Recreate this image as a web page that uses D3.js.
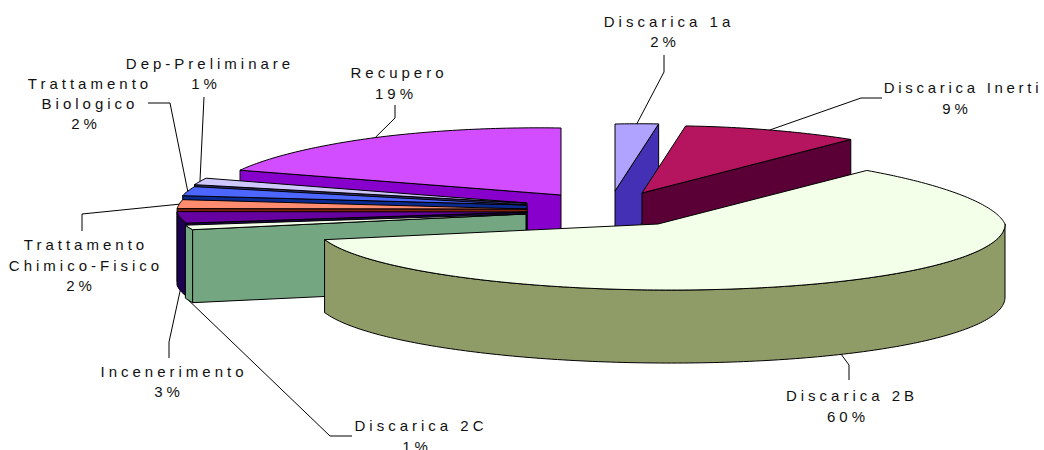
<!DOCTYPE html>
<html><head><meta charset="utf-8">
<script src="https://cdn.jsdelivr.net/npm/d3@7"></script>
<style>html,body{margin:0;padding:0;background:#fff;overflow:hidden}svg{display:block}text{font-family:"Liberation Sans",Arial,sans-serif;font-size:15px;letter-spacing:4px;fill:#111}</style>
</head><body><svg id="c" width="1044" height="450"></svg>
<script>
// data
const categories = ["Discarica 1a","Discarica Inerti","Discarica 2B","Discarica 2C","Incenerimento","Trattamento Chimico-Fisico","Trattamento Biologico","Dep-Preliminare","Recupero"];
const values = [2.4, 9.0, 59.6, 1.2, 2.9, 2.1, 2.0, 1.4, 19.4];
// layout (explosion apex of every slice, in px)
const apexX = [615, 642, 658, 526, 527, 527, 527, 527, 561];
const apexY = [191, 193, 224, 214, 212, 209, 205, 203, 195];
const topColors  = ["#B0A3FF","#B5145F","#F3FFE8","#F3FFE8","#6600A0","#FF8C6E","#4D66FF","#CFC8FF","#D24DFF"];
const sideColors = ["#4330B5","#5A0037","#8F9C68","#75A682","#1E0050","#7F2010","#0A2A90","#2E2C66","#8800CC"];
const labelLines = [["Discarica 1a"],["Discarica Inerti"],["Discarica 2B"],["Discarica 2C"],["Incenerimento"],["Trattamento","Chimico-Fisico"],["Trattamento","Biologico"],["Dep-Preliminare"],["Recupero"]];
const labelX = [669, 963, 852, 421, 174, 86, 90, 210, 399];
const labelY = [27, 93, 401, 431, 377, 250, 89, 69, 78];
const labelGap = [20, 21, 21, 21, 20, 20.5, 20, 20, 21];
const labelSpacing = [4, 3.7, 4, 4, 4, 4, 4, 4, 4];
const pctShift = [-4, -6, -4, -4, -5, -5, -4, -4, -3];
const leaderKnees = [[[664,55],[664,72]],[[882,98],[861,98]],[[849,380],[849,365]],[[352,436],[330,436]],[[169,358],[169,342]],[[82,231],[82,214]],[[148,103],[170,103]],[[204,97]],[[395,105],[395,118]]];
const leaderOnWall = [false,false,true,true,true,false,false,false,false];
const paintOrder = [8,0,1,7,6,5,4,3,2];
const depth = 73;

const deg = Math.PI/180;
const rx = d3.scaleLinear().domain([0,8,41,90,180,255,270,280,290,324,360].map(d=>d*deg)).range([290,290,318,347,350,344,350,347,342,325,310]);
const ry = d3.scaleLinear().domain([0,41,90,180,255,270,290,325,360].map(d=>d*deg)).range([67,71,70,66,63,65,72,70,67]);
const pie = d3.pie().sort(null).startAngle(0).endAngle(2*Math.PI)(values);
const svg = d3.select("#c");
const line = d3.line().x(d=>d[0]).y(d=>d[1]);
const rim = (i,a,dz=0)=>[apexX[i]+rx(a)*Math.sin(a), apexY[i]-ry(a)*Math.cos(a)+dz];
const sample = (a0,a1)=>{const n=Math.max(2,Math.ceil(Math.abs(a1-a0)/(1*deg)));return d3.range(n+1).map(k=>a0+(a1-a0)*k/n);};
const stroke = sel=>sel.attr("stroke","#000").attr("stroke-width",1).attr("stroke-linejoin","round");

function cut(i,a){
  const p=rim(i,a), q=rim(i,a,depth);
  stroke(svg.append("path").attr("d",line([[apexX[i],apexY[i]],p,q,[apexX[i],apexY[i]+depth]])+"Z").attr("fill",sideColors[i]));
}
paintOrder.forEach(i=>{
  const s=pie[i], a0=s.startAngle, a1=s.endAngle;
  if(Math.sin(a0)<-1e-6) cut(i,a0);
  if(Math.sin(a1)>1e-6) cut(i,a1);
  const w0=Math.max(a0,90*deg), w1=Math.min(a1,270*deg);
  if(w1>w0){
    const ts=sample(w0,w1);
    const pts=ts.map(a=>rim(i,a)).concat(ts.slice().reverse().map(a=>rim(i,a,depth)));
    stroke(svg.append("path").attr("d",line(pts)+"Z").attr("fill",sideColors[i]));
  }
  const pts=[[apexX[i],apexY[i]]].concat(sample(a0,a1).map(a=>rim(i,a)));
  stroke(svg.append("path").attr("d",line(pts)+"Z").attr("fill",topColors[i]));
});
// leaders
pie.forEach((s,i)=>{
  const mid=(s.startAngle+s.endAngle)/2;
  const pts=leaderKnees[i].concat([rim(i,mid,leaderOnWall[i]?depth:0)]);
  svg.append("path").attr("d",line(pts)).attr("fill","none").attr("stroke","#000").attr("stroke-width",1);
});
// labels
categories.forEach((c,i)=>{
  const lines=labelLines[i];
  lines.forEach((t,k)=>{
    svg.append("text").attr("x",labelX[i]).attr("y",labelY[i]+k*labelGap[i]).attr("text-anchor","middle").style("letter-spacing",labelSpacing[i]+"px").text(t);
  });
  svg.append("text").attr("x",labelX[i]+pctShift[i]).attr("y",labelY[i]+lines.length*labelGap[i]).attr("text-anchor","middle").text(Math.round(values[i])+"%");
});
</script></body></html>
